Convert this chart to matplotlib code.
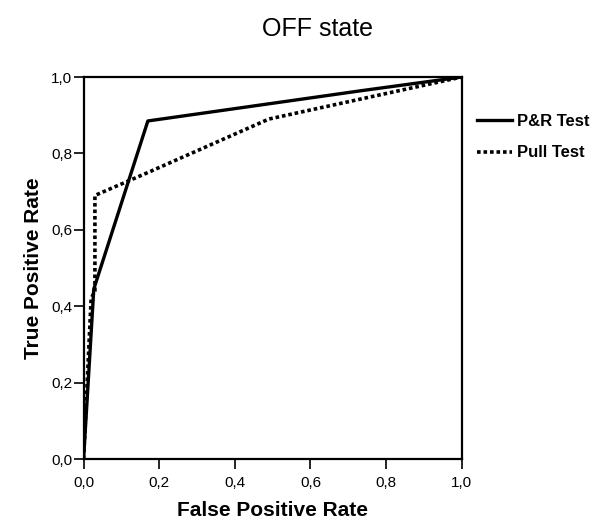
import matplotlib
matplotlib.use('Agg')
import matplotlib.pyplot as plt

# ROC curves
pr_fpr = [0.0, 0.027, 0.17, 0.74, 1.0]
pr_tpr = [0.0, 0.445, 0.885, 0.965, 1.0]

pull_fpr = [0.0, 0.02, 0.03, 0.03, 0.17, 0.49, 1.0]
pull_tpr = [0.0, 0.42, 0.44, 0.69, 0.75, 0.89, 1.0]

tick_values = [0.0, 0.2, 0.4, 0.6, 0.8, 1.0]
tick_labels = ['0,0', '0,2', '0,4', '0,6', '0,8', '1,0']

plt.rcParams['font.family'] = ['Liberation Sans', 'DejaVu Sans']

fig = plt.figure(figsize=(6.1, 5.24), dpi=100)
ax = fig.add_axes([0.137, 0.124, 0.62, 0.729])

ax.plot(pr_fpr, pr_tpr, color='black', lw=2.4, linestyle='-', label='P&R Test')
ax.plot(pull_fpr, pull_tpr, color='black', lw=2.6, linestyle=(0, (1, 0.8)),
        label='Pull Test')

ax.set_xlim(0, 1)
ax.set_ylim(0, 1)
ax.set_xticks(tick_values)
ax.set_xticklabels(tick_labels)
ax.set_yticks(tick_values)
ax.set_yticklabels(tick_labels)
ax.tick_params(direction='out', length=7, width=1.2, labelsize=11)
ax.tick_params(axis='x', pad=5)
ax.tick_params(axis='y', pad=1)

for s in ax.spines.values():
    s.set_linewidth(1.6)

ax.set_xlabel('False Positive Rate', fontsize=15, fontweight='bold', labelpad=8)
ax.set_ylabel('True Positive Rate', fontsize=15, fontweight='bold', labelpad=6)
fig.suptitle('OFF state', fontsize=18, x=0.52, y=0.968)

leg = ax.legend(loc='upper left', bbox_to_anchor=(1.015, 0.93), frameon=False,
                handlelength=2.1, handletextpad=0.3, labelspacing=1.0,
                borderaxespad=0.2, prop={'size': 12, 'weight': 'bold'})

fig.savefig('out.png', dpi=100)
